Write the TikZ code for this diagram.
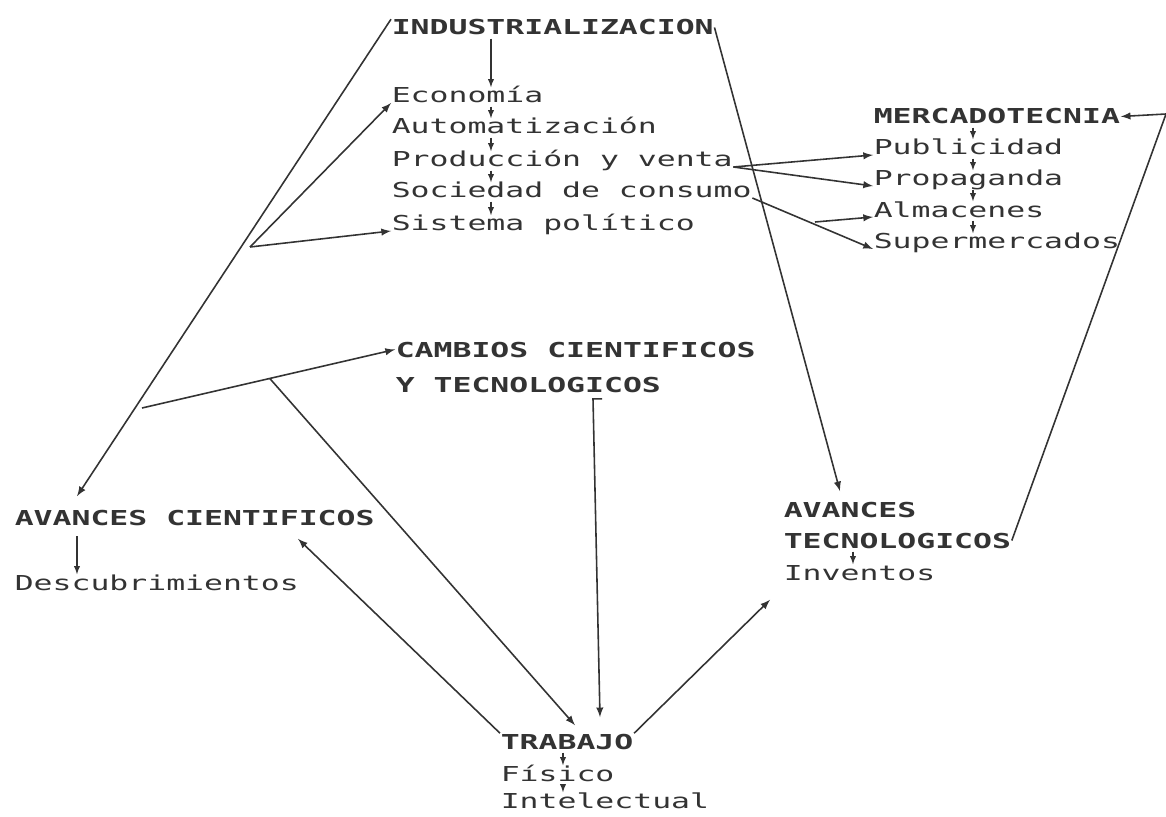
\documentclass[tikz,border=0pt]{standalone}
\usepackage{fontspec}
\usepackage{tikz}
\newfontfamily\plotfont[FakeStretch=1.53]{DejaVu Sans Mono}

\tikzset{
  txt/.style={anchor=base west, inner sep=0pt, text height=0.3cm, text depth=0pt,
              font=\plotfont\fontsize{11.7}{14}\selectfont},
  head/.style={txt, font=\plotfont\bfseries\fontsize{11.7}{14}\selectfont},
  arr/.style={->, >=latex},
  tick/.style={->, >=latex, line width=0.6pt, shorten <=2pt}
}

\begin{document}
\begin{tikzpicture}[x=0.02cm, y=0.02cm, line width=0.9pt, color=black!80]
\useasboundingbox (0,0) rectangle (1166,816);

\node[head] (ind) at (391,781) {INDUSTRIALIZACION};
\node[txt] (econ) at (391,713) {Economía};
\node[txt] (autom) at (391,682) {Automatización};
\node[txt] (prod) at (391,649) {Producción y venta};
\node[txt] (soc) at (391,618) {Sociedad de consumo};
\node[txt] (sis) at (391,585) {Sistema político};

\node[head] (merc) at (873,692) {MERCADOTECNIA};
\node[txt] (publ) at (873,661) {Publicidad};
\node[txt] (propa) at (873,630) {Propaganda};
\node[txt] (alma) at (873,599) {Almacenes};
\node[txt] (super) at (873,567) {Supermercados};

\node[head] (camb1) at (395,459) {CAMBIOS CIENTIFICOS};
\node[head] (camb2) at (395,424) {Y TECNOLOGICOS};

\node[head] (acien) at (14,291) {AVANCES CIENTIFICOS};
\node[txt] (descub) at (14,226) {Descubrimientos};

\node[head] (atec1) at (783,299) {AVANCES};
\node[head] (atec2) at (783,268) {TECNOLOGICOS};
\node[txt] (inv) at (783,236) {Inventos};

\node[head] (trab) at (500,67) {TRABAJO};
\node[txt] (fis) at (500,35) {Físico};
\node[txt] (intel) at (500,8) {Intelectual};

\coordinate (fan1) at (250,569);
\coordinate (fan2) at (142,408);
\coordinate (corner) at (1166,702);
\coordinate (alm0) at (815,594);

% industrializacion
\draw[arr] (ind.north west) -- ([shift={(63,13)}]acien.north west);
\draw[arr] (ind.east) -- ([shift={(57,10)}]atec1.north west);
\draw[arr] (fan1) -- (econ.base west);
\draw[arr] (fan1) -- (sis.base west);

% cambios y trabajo
\draw[arr] (fan2) -- coordinate[pos=0.505] (fan3) (camb1.west);
\draw[arr] (fan3) -- ([shift={(75,8)}]trab.north west);
\draw[arr] ([shift={(207,-6)}]camb2.south west) -- ++(-9,0) -- ([shift={(100,16)}]trab.north west);
\draw[arr] (trab.north west) -- ([shift={(284,-13)}]acien.south west);
\draw[arr] (trab.north east) -- ([shift={(-13,-19)}]inv.south west);

% mercadotecnia
\draw[arr] (atec2.east) -- (corner) -- (merc.east);
\draw[arr] (prod.base east) -- (publ.base west);
\draw[arr] (prod.base east) -- (propa.base west);
\draw[arr] (soc.base east) -- (super.base west);
\draw[arr] (alm0) -- (alma.base west);

% small arrows inside the lists
\foreach \a/\b in {ind/econ, econ/autom, autom/prod, prod/soc, soc/sis,
                   merc/publ, publ/propa, propa/alma, alma/super}
  \draw[tick] ([xshift=2cm]\a.base west) -- ([xshift=2cm]\b.north west);
\foreach \a/\b in {trab/fis, fis/intel}
  \draw[tick] ([xshift=1.26cm]\a.base west) -- ([xshift=1.26cm]\b.north west);
\draw[tick] ([xshift=1.4cm]atec2.base west) -- ([xshift=1.4cm]inv.north west);
\draw[tick, shorten <=0.22cm] ([xshift=1.26cm]acien.base west) -- ([xshift=1.26cm]descub.north west);
\end{tikzpicture}
\end{document}
